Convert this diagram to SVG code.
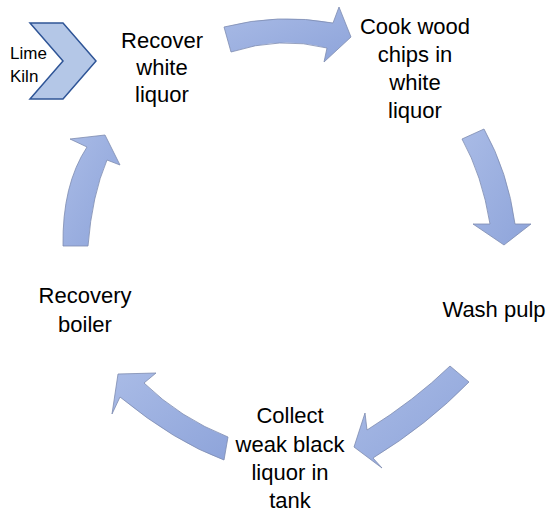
<svg xmlns="http://www.w3.org/2000/svg" width="552" height="513" viewBox="0 0 552 513">
<defs>
<linearGradient id="ag" x1="0" y1="0" x2="1" y2="1">
<stop offset="0" stop-color="#a9bbe6"/>
<stop offset="1" stop-color="#8ea4da"/>
</linearGradient>
<style>
.arrow{fill:url(#ag);stroke:#7d8cb0;stroke-width:0.8;stroke-linejoin:miter}
.lbl{font-family:"Liberation Sans",Arial,sans-serif;font-size:22px;fill:#000;text-anchor:middle}
.small{font-family:"Liberation Sans",Arial,sans-serif;font-size:17px;fill:#000}
.chev{fill:#b4c7e7;stroke:#2f5597;stroke-width:1.5;stroke-linejoin:miter}
</style>
</defs>
<rect width="552" height="513" fill="#fff"/>
<g id="connectors">
<path class="arrow" d="M224,27 Q278,13 333,23 L339,7 L351,37 L324,62 L327,48 Q280,36 231,52 Z"/>
<path class="arrow" d="M462,139 Q482,175 490,224 L473,224 L504,245 L531,224 L515,224 Q508,172 484,129 Z"/>
<path class="arrow" d="M450,366 L469,382 Q427,425 373,458 L382,468 L354,447 L365,413 L367,430 Q415,400 450,366 Z"/>
<path class="arrow" d="M228,437 L224,460 Q175,442 120,397 L112,414 L118,374 L156,373 L144,383 Q180,418 228,437 Z"/>
<path class="arrow" d="M63,246 Q62,185 87,147 L70,139 L105,135 L120,165 L107,160 Q92,195 88,246 Z"/>
</g>
<g id="lime-kiln">
<path class="chev" d="M30,23 L63,23 L96,61 L63,99 L30,99 L63,61 Z"/>
<text class="small" x="10" y="59">Lime</text>
<text class="small" x="10" y="82">Kiln</text>
</g>
<g id="recover">
<text class="lbl" x="162" y="48">Recover</text>
<text class="lbl" x="162" y="75">white</text>
<text class="lbl" x="162" y="102">liquor</text>
</g>
<g id="cook">
<text class="lbl" x="415" y="34">Cook wood</text>
<text class="lbl" x="415" y="62">chips in</text>
<text class="lbl" x="415" y="90">white</text>
<text class="lbl" x="415" y="118">liquor</text>
</g>
<g id="wash">
<text class="lbl" x="494" y="317">Wash pulp</text>
</g>
<g id="collect">
<text class="lbl" x="290" y="423">Collect</text>
<text class="lbl" x="290" y="452">weak black</text>
<text class="lbl" x="290" y="480">liquor in</text>
<text class="lbl" x="290" y="508">tank</text>
</g>
<g id="boiler">
<text class="lbl" x="85" y="303">Recovery</text>
<text class="lbl" x="85" y="332">boiler</text>
</g>
</svg>
